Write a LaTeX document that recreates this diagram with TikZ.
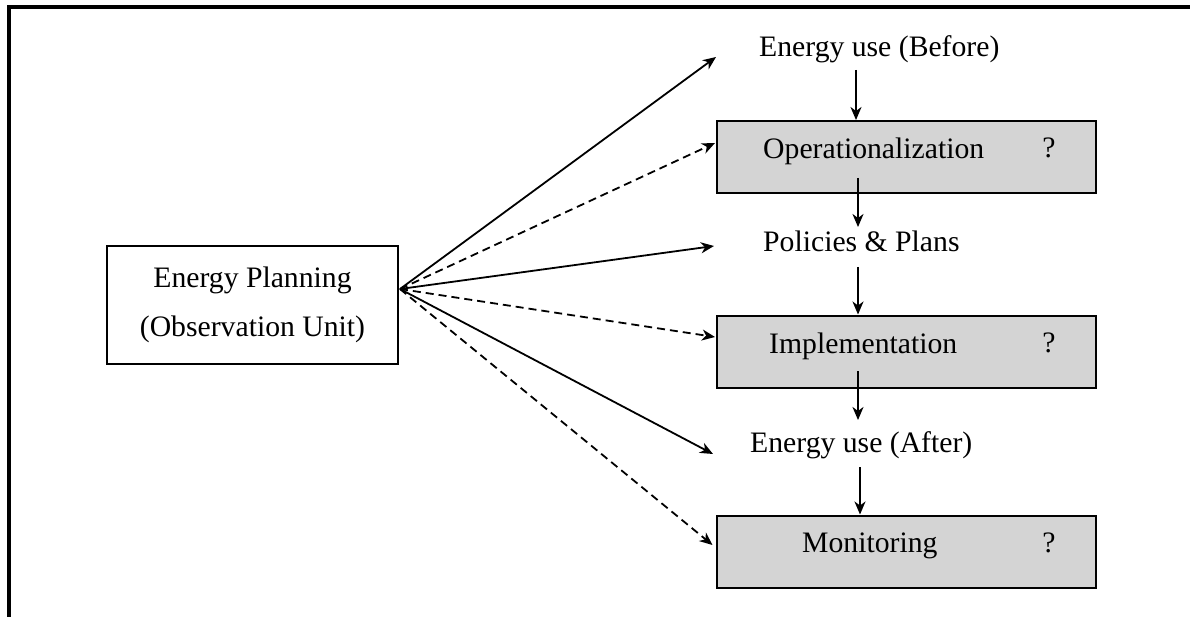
\documentclass[tikz,border=0pt]{standalone}
\usepackage{fontspec}
\setmainfont{Liberation Serif}
\usetikzlibrary{arrows.meta}
\definecolor{boxgray}{RGB}{212,212,212}
\tikzset{
  lbl/.style={inner sep=0pt, font=\fontsize{29.7}{35.6}\selectfont},
  stagebox/.style={draw, line width=2pt, fill=boxgray, minimum width=379pt, minimum height=72pt, inner sep=0pt},
  unitbox/.style={draw, line width=2pt, fill=white, minimum width=291pt, minimum height=118pt, inner sep=0pt, align=center,
    font=\fontsize{29.7}{49}\selectfont},
  arr/.style={line width=1.8pt, -{Stealth[length=13pt,width=11pt,inset=4pt]}},
  darr/.style={arr, dash pattern=on 8pt off 5pt},
}
\begin{document}
\begin{tikzpicture}[x=1pt,y=-1pt]
  \useasboundingbox (0,0) rectangle (1190,617);
  % open frame along the top and left
  \draw[line width=3.5pt] (9,617) -- (9,7) -- (1190,7);

  % observation unit
  \node[unitbox] (ep) at (252.5,305) {Energy Planning\\(Observation Unit)};
  \coordinate (hub) at ([xshift=1pt,yshift=16pt]ep.east);

  % stage boxes
  \node[stagebox] (op)  at (906.5,157)   {};
  \node[stagebox] (imp) at (906.5,351.5) {};
  \node[stagebox] (mon) at (906,551.5)   {};

  \node[lbl, anchor=base west] (optxt)  at (763,159) {Operationalization};
  \node[lbl, anchor=base west] (imptxt) at (769,353) {Implementation};
  \node[lbl, anchor=base west] (montxt) at (802,552) {Monitoring};
  \node[lbl, anchor=base] (opq)  at (1049,158) {?};
  \node[lbl, anchor=base] (impq) at (1049,352) {?};
  \node[lbl, anchor=base] (monq) at (1049,552) {?};

  % quantities between stages
  \node[lbl, anchor=base west] (before) at (759,57)  {Energy use (Before)};
  \node[lbl, anchor=base west] (pol)    at (763,252) {Policies \& Plans};
  \node[lbl, anchor=base west] (after)  at (750,452) {Energy use (After)};

  % vertical chain
  \draw[arr] ([xshift=97pt,yshift=-13pt]before.base west) -- ([xshift=97pt]before.base west |- op.north);
  \draw[arr] ([xshift=95pt,yshift=-19pt]optxt.base west) -- ([xshift=95pt]optxt.base west |- 0,227);
  \draw[arr] ([xshift=95pt,yshift=-15pt]pol.base west) -- ([xshift=95pt]pol.base west |- imp.north);
  \draw[arr] ([xshift=89pt,yshift=-18pt]imptxt.base west) -- ([xshift=89pt]imptxt.base west |- 0,420);
  \draw[arr] ([xshift=110pt,yshift=-15pt]after.base west) -- ([xshift=110pt]after.base west |- mon.north);

  % fan from the observation unit
  \draw[arr]  (hub) -- ([xshift=-43pt]before.base west);
  \draw[darr] (hub) -- ([xshift=-1pt,yshift=14pt]op.west);
  \draw[arr]  (hub) -- ([xshift=-49pt,yshift=6pt]pol.base west);
  \draw[darr] (hub) -- ([xshift=-1pt,yshift=14.5pt]imp.west);
  \draw[arr]  (hub) -- ([xshift=-37pt,yshift=-2pt]after.base west);
  \draw[darr] (hub) -- ([xshift=-3pt,yshift=6.5pt]mon.west);
\end{tikzpicture}
\end{document}
